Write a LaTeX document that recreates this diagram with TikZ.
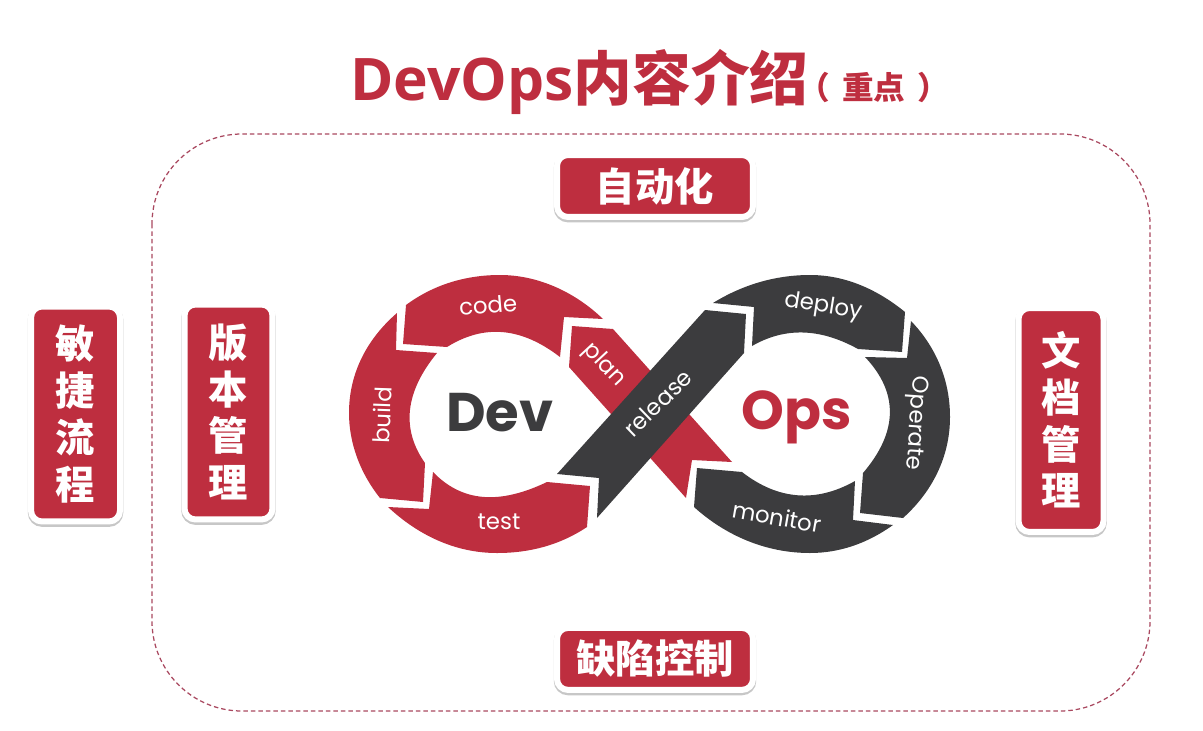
\documentclass[tikz,border=0pt]{standalone}
\usepackage{fontspec}
\newfontfamily\cjk{Noto Sans CJK SC}
\newfontfamily\latinb{Open Sans}
\newfontfamily\loopfont{Poppins}
\usetikzlibrary{positioning,shadows}
\definecolor{devred}{HTML}{BE2E3F}
\definecolor{opsdark}{HTML}{3C3C3E}
\definecolor{dashred}{HTML}{A9485F}

\begin{document}
\begin{tikzpicture}[x=0.02cm,y=-0.02cm,on grid,
    card/.style={draw=white,line width=0.12cm,fill=devred,rounded corners=0.22cm,text=white,
      align=center,font=\cjk\bfseries\fontsize{22.4}{26.6}\selectfont,inner sep=0pt,
      drop shadow={shadow xshift=0pt,shadow yshift=-1.2pt,opacity=.22,fill=black,draw=black,line width=0.13cm}},
    wide/.style={card,minimum width=3.92cm,minimum height=1.24cm},
    tall/.style={card,minimum width=1.76cm,minimum height=4.3cm},
    seg/.style={text=white,font=\loopfont\fontsize{13}{14}\selectfont,inner sep=0pt},
    big/.style={font=\loopfont\bfseries\fontsize{31}{34}\selectfont,inner sep=0pt}]
   \useasboundingbox (0,0) rectangle (1203,730);

   % outer frame
   \draw[dashred,line width=0.025cm,dash pattern=on 0.09cm off 0.06cm,rounded corners=1.8cm]
     (152,134) rectangle (1150,711);

   % title
   \node[anchor=base west,inner sep=0pt,text=devred] (title) at (350,100)
     {\fontsize{33.4}{36}\selectfont\bfseries{\latinb\bfseries DevOps}\cjk 内容介绍};
   \node[anchor=base,inner sep=0pt,text=devred] (title_note) at (874,99)
     {\fontsize{18}{20}\selectfont\bfseries\cjk （\hspace{7pt}重点\hspace{7pt}）};

   % cards
   \node[wide] (card_auto) at (655,186) {自动化};
   \node[wide] (card_defect) [below=9.46cm of card_auto] {缺陷控制};
   \node[tall] (card_ver) at (228.5,412) {版\\本\\管\\理};
   \node[tall,minimum width=1.78cm] (card_agile) [left=3.06cm of card_ver,yshift=-0.04cm] {敏\\捷\\流\\程};
   \node[tall,minimum width=1.7cm,minimum height=4.48cm] (card_doc) at (1061,420) {文\\档\\管\\理};

   % dev loop
   \fill[devred] (572,326) -- (613,329) -- (732,462) -- (692,460) -- (686,498) -- (569,367) -- cycle;
   \fill[devred] (406,305) .. controls (433,285) and (465,275) .. (500,275)
     .. controls (538,275) and (575,292) .. (603,319) -- (564,317) -- (560,357)
     .. controls (521,327) and (484,324) .. (447,347) -- (403,344) -- cycle;
   \fill[devred] (397,313) -- (396,350) -- (437,353) .. controls (405,392) and (401,429) .. (425,463)
     -- (423,502) -- (380,498) .. controls (360,473) and (349,443) .. (349,413)
     .. controls (349,372) and (368,338) .. (397,313) -- cycle;
   \fill[devred] (433,472) .. controls (462,502) and (499,505) .. (547,482) -- (590,486) -- (587,527)
     .. controls (560,545) and (530,553) .. (497,553)
     .. controls (455,553) and (418,535) .. (388,507) -- (429,509) -- cycle;

   % ops loop
   \fill[opsdark] (557,474) -- (705,310) -- (746,314) -- (744,353) -- (597,518) -- (599,478) -- cycle;
   \fill[opsdark] (713,303) .. controls (742,285) and (775,275) .. (810,275)
     .. controls (846,275) and (878,290) .. (905,312) -- (902,352) -- (858,349)
     .. controls (820,328) and (785,327) .. (752,346) -- (754,307) -- cycle;
   \fill[opsdark] (911,321) .. controls (936,347) and (950,380) .. (950,417)
     .. controls (950,457) and (932,492) .. (903,518) -- (860,513) -- (863,473)
     .. controls (898,432) and (899,393) .. (865,357) -- (907,358) -- cycle;
   \fill[opsdark] (697,468) -- (742,472) .. controls (778,500) and (816,503) .. (855,481) -- (853,520)
     -- (893,525) .. controls (868,543) and (840,553) .. (810,553)
     .. controls (765,553) and (725,535) .. (694,507) -- cycle;

   % labels
   \node[seg,rotate=5] (lbl_code) at (488,305) {code};
   \node[seg,rotate=-47] (lbl_plan) at (604,365) {plan};
   \node[seg,rotate=88] (lbl_build) at (382,415) {build};
   \node[seg] (lbl_test) at (499,522) {test};
   \node[seg,rotate=44] (lbl_release) at (658,403) {release};
   \node[seg,rotate=-9] (lbl_deploy) at (823,307) {deploy};
   \node[seg,rotate=-94] (lbl_operate) at (915,423) {Operate};
   \node[seg,rotate=-10] (lbl_monitor) at (777,517) {monitor};
   \node[big,text=opsdark] (dev) at (500,413) {Dev};
   \node[big,text=devred] (ops) at (797,417) {Ops};
\end{tikzpicture}
\end{document}
